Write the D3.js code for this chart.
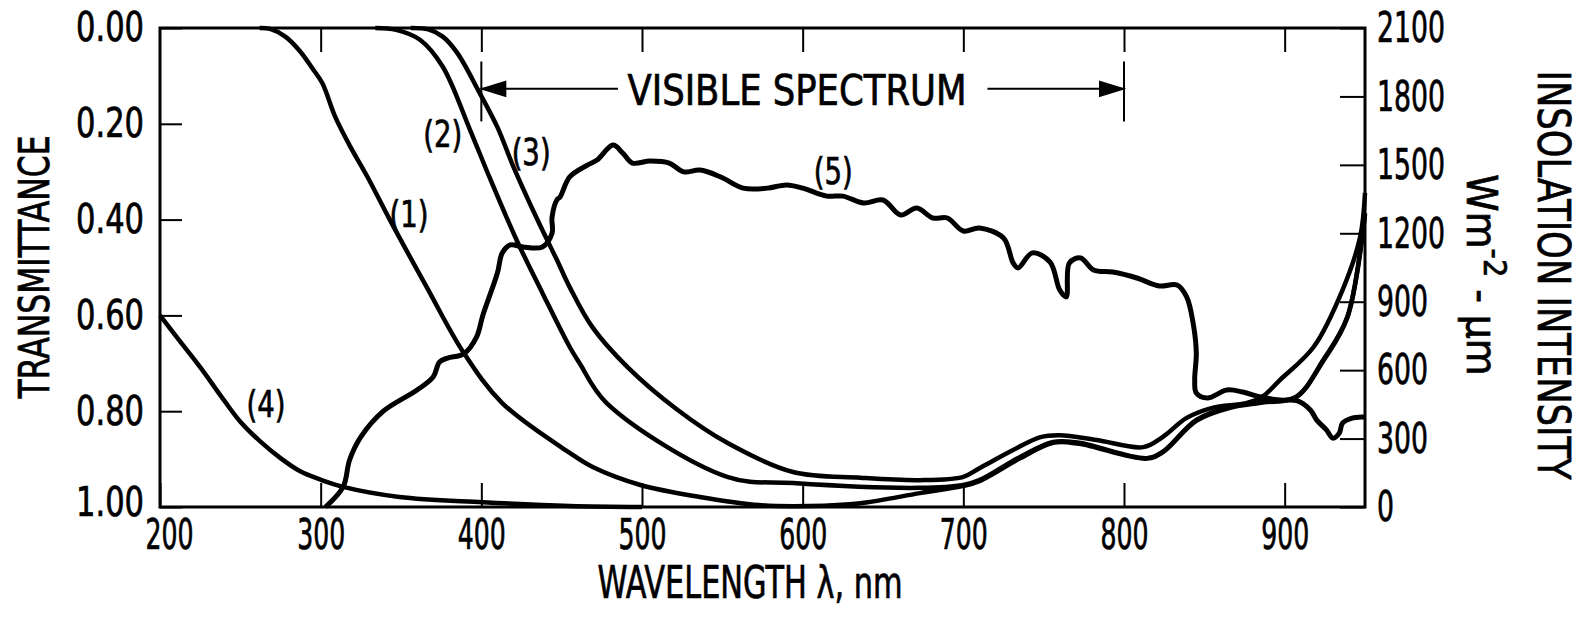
<!DOCTYPE html>
<html>
<head>
<meta charset="utf-8">
<script src="https://cdn.jsdelivr.net/npm/d3@7"></script>
<style>
  body { margin: 0; background: #fff; }
  svg text { font-family: "Liberation Sans Narrow", "DejaVu Sans Condensed", "Liberation Sans", sans-serif; fill: #000; stroke: #000; stroke-width: 0.7px; }
</style>
</head>
<body>
<div id="chart"></div>
<script>
// tick values
const xTicks = [200, 300, 400, 500, 600, 700, 800, 900];
const transTicks = [0, 0.2, 0.4, 0.6, 0.8, 1.0];
const insolTicks = [0, 300, 600, 900, 1200, 1500, 1800, 2100];

// transmittance curves, [wavelength nm, transmittance]
const curve1 = [[262, 0], [268.5, 0.002], [278, 0.018], [287, 0.048], [295, 0.085], [301, 0.115], [309, 0.185],
  [318, 0.245], [329, 0.31], [343, 0.40], [366, 0.541], [389, 0.678], [413, 0.783], [455, 0.887], [469, 0.916],
  [499, 0.954], [536, 0.979], [573, 0.996], [604, 0.998], [636, 0.992], [673, 0.971], [700, 0.956], [710, 0.946],
  [735, 0.899], [756, 0.866], [772, 0.868], [814, 0.899], [824, 0.886], [845, 0.82], [866, 0.793], [886, 0.782],
  [907, 0.771], [924, 0.695], [939, 0.605], [950, 0.39]];
const curve2 = [[334, 0], [347, 0.004], [362, 0.025], [376, 0.081], [393, 0.213], [405, 0.311], [422, 0.443],
  [438, 0.553], [455, 0.666], [461, 0.699], [478, 0.783], [553, 0.937], [594, 0.950], [673, 0.960], [700, 0.954],
  [710, 0.944], [735, 0.896], [756, 0.864], [772, 0.866], [814, 0.898], [824, 0.885], [845, 0.818], [866, 0.791],
  [886, 0.781], [907, 0.770], [924, 0.693], [939, 0.603], [950, 0.386]];
const curve3 = [[356, 0], [367, 0.003], [376, 0.018], [385, 0.052], [399, 0.136], [410, 0.207], [420, 0.290],
  [435, 0.401], [447, 0.484], [455, 0.541], [469, 0.624], [491, 0.708], [522, 0.797], [553, 0.866], [594, 0.927],
  [636, 0.939], [673, 0.944], [700, 0.937], [710, 0.919], [731, 0.881], [748, 0.854], [760, 0.850], [783, 0.860],
  [812, 0.875], [824, 0.854], [839, 0.814], [855, 0.793], [876, 0.783], [886, 0.770], [897, 0.735], [918, 0.666],
  [936, 0.547], [947, 0.436], [950, 0.344]];
const curve4 = [[200, 0.60], [212, 0.652], [225, 0.708], [240, 0.778], [250, 0.822], [262, 0.862], [275, 0.898],
  [287, 0.925], [300, 0.943], [314, 0.958], [349, 0.979], [401, 0.990], [455, 0.998], [500, 1.0]];

// insolation, [wavelength nm, W m-2 um-1]
const curve5 = [[303, 0], [314, 88], [318, 206], [325, 307], [339, 420], [360, 513], [370, 570], [374, 636],
  [379, 653], [389, 671], [397, 745], [401, 842], [410, 1026], [413, 1114], [418, 1149], [426, 1140], [438, 1140],
  [444, 1200], [444, 1270], [447, 1346], [449, 1359], [455, 1447], [466, 1499], [472, 1521], [482, 1587],
  [488, 1552], [494, 1508], [505, 1517], [517, 1508], [526, 1469], [536, 1477], [549, 1447], [563, 1398],
  [578, 1398], [590, 1412], [600, 1398], [615, 1363], [625, 1363], [638, 1333], [650, 1346], [661, 1280],
  [671, 1311], [681, 1267], [690, 1267], [700, 1210], [710, 1223], [725, 1179], [731, 1070], [734, 1048],
  [743, 1114], [754, 1074], [760, 951], [764, 921], [766, 1070], [773, 1092], [781, 1039], [793, 1030],
  [808, 1004], [822, 969], [833, 973], [839, 921], [843, 807], [845, 675], [844, 557], [845, 500], [852, 478],
  [864, 513], [874, 504], [885, 482], [897, 469], [908, 465], [916, 425], [920, 381], [926, 338], [930, 302],
  [934, 324], [936, 368], [942, 390], [949, 395], [950, 395]];

// curve labels, [wavelength, value on its own axis]
const labels = [
  { text: "(1)", at: [355, 0.388], axis: "t" },
  { text: "(2)", at: [376, 0.221], axis: "t" },
  { text: "(3)", at: [431, 0.259], axis: "t" },
  { text: "(4)", at: [266, 0.784], axis: "t" },
  { text: "(5)", at: [619, 1473], axis: "i" }
];

const width = 1582, height = 618;
const m = { left: 160, right: 1365, top: 28, bottom: 507 };

const svg = d3.select("#chart").append("svg")
  .attr("width", width)
  .attr("height", height);

const x = d3.scaleLinear().domain([200, 950]).range([m.left, m.right]);
const yT = d3.scaleLinear().domain([0, 1]).range([m.top, m.bottom]);
const yI = d3.scaleLinear().domain([0, 2100]).range([m.bottom, m.top]);

function styleAxis(g, size, perChar) {
  g.select(".domain").remove();
  g.selectAll(".tick line").attr("stroke", "#000").attr("stroke-width", 2);
  g.selectAll(".tick text")
    .attr("font-size", size)
    .attr("fill", "#000")
    .attr("lengthAdjust", "spacingAndGlyphs")
    .attr("textLength", function () { return this.textContent.length * perChar; });
}

// bottom
svg.append("g")
  .attr("transform", `translate(0,${m.bottom})`)
  .call(d3.axisBottom(x).tickValues(xTicks).tickSize(-24).tickPadding(12).tickFormat(d3.format("d")))
  .call(g => styleAxis(g, 42, 16))
  .call(g => g.selectAll(".tick text").filter(d => d === 200).attr("dx", 9));

// top, ticks only
svg.append("g")
  .attr("transform", `translate(0,${m.top})`)
  .call(d3.axisTop(x).tickValues(xTicks.slice(1)).tickSize(-24).tickFormat(""))
  .call(g => styleAxis(g, 40, 16));

// left
svg.append("g")
  .attr("transform", `translate(${m.left},0)`)
  .call(d3.axisLeft(yT).tickValues(transTicks).tickSize(-22).tickPadding(16).tickFormat(d3.format(".2f")))
  .call(g => styleAxis(g, 40, 17))
  .call(g => g.selectAll(".tick text").filter(d => d === 1).attr("dy", "0.2em"));

// right
svg.append("g")
  .attr("transform", `translate(${m.right},0)`)
  .call(d3.axisRight(yI).tickValues(insolTicks).tickSize(-25).tickPadding(12).tickFormat(d3.format("d")))
  .call(g => styleAxis(g, 43, 17));

// frame
svg.append("rect")
  .attr("x", m.left).attr("y", m.top)
  .attr("width", m.right - m.left).attr("height", m.bottom - m.top)
  .attr("fill", "none").attr("stroke", "#000").attr("stroke-width", 3);

// curves
const lineT = d3.line().x(d => x(d[0])).y(d => yT(d[1])).curve(d3.curveCatmullRom.alpha(0.5));
const lineI = d3.line().x(d => x(d[0])).y(d => yI(d[1])).curve(d3.curveCatmullRom.alpha(0.5));

svg.selectAll("path.trans")
  .data([curve1, curve2, curve3, curve4])
  .join("path")
  .attr("class", "trans")
  .attr("d", lineT)
  .attr("fill", "none")
  .attr("stroke", "#000")
  .attr("stroke-width", 4.5)
  .attr("stroke-linejoin", "round");

svg.append("path")
  .attr("d", lineI(curve5))
  .attr("fill", "none")
  .attr("stroke", "#000")
  .attr("stroke-width", 5)
  .attr("stroke-linejoin", "round");

// curve labels
svg.selectAll("text.clabel")
  .data(labels)
  .join("text")
  .attr("class", "clabel")
  .attr("x", d => x(d.at[0]))
  .attr("y", d => (d.axis === "t" ? yT(d.at[1]) : yI(d.at[1])) + 13)
  .attr("text-anchor", "middle")
  .attr("font-size", 38)
  .attr("lengthAdjust", "spacingAndGlyphs")
  .attr("textLength", 39)
  .text(d => d.text);

// visible spectrum marker
const vis = svg.append("g").attr("stroke", "#000").attr("stroke-width", 2);
const yArrow = yT(0.127);
[400, 800].forEach(w => {
  vis.append("line")
    .attr("x1", x(w)).attr("x2", x(w))
    .attr("y1", yT(0.07)).attr("y2", yT(0.195));
});
vis.append("line").attr("x1", x(400)).attr("x2", x(485)).attr("y1", yArrow).attr("y2", yArrow);
vis.append("line").attr("x1", x(715)).attr("x2", x(800)).attr("y1", yArrow).attr("y2", yArrow);
vis.append("path")
  .attr("d", `M${x(400) + 1},${yArrow} L${x(400) + 24},${yArrow - 7} L${x(400) + 24},${yArrow + 7} Z`)
  .attr("fill", "#000");
vis.append("path")
  .attr("d", `M${x(800) - 1},${yArrow} L${x(800) - 24},${yArrow - 7} L${x(800) - 24},${yArrow + 7} Z`)
  .attr("fill", "#000");

svg.append("text")
  .attr("x", 797).attr("y", yArrow + 16)
  .attr("text-anchor", "middle")
  .attr("font-size", 43)
  .attr("lengthAdjust", "spacingAndGlyphs")
  .attr("textLength", 339)
  .text("VISIBLE SPECTRUM");

// axis titles
svg.append("text")
  .attr("transform", "translate(49,267) rotate(-90)")
  .attr("text-anchor", "middle")
  .attr("font-size", 42)
  .attr("lengthAdjust", "spacingAndGlyphs")
  .attr("textLength", 263)
  .text("TRANSMITTANCE");

svg.append("text")
  .attr("x", 750).attr("y", 598)
  .attr("text-anchor", "middle")
  .attr("font-size", 45)
  .attr("lengthAdjust", "spacingAndGlyphs")
  .attr("textLength", 305)
  .text("WAVELENGTH  \u03bb,  nm");

svg.append("text")
  .attr("transform", "translate(1538,275) rotate(90)")
  .attr("text-anchor", "middle")
  .attr("font-size", 44)
  .attr("lengthAdjust", "spacingAndGlyphs")
  .attr("textLength", 409)
  .text("INSOLATION INTENSITY");

const unit = svg.append("text")
  .attr("transform", "translate(1467,275) rotate(90)")
  .attr("text-anchor", "middle")
  .attr("font-size", 42);
unit.append("tspan").text("Wm");
unit.append("tspan").attr("dy", -17).attr("font-size", 32).text("-2");
unit.append("tspan").attr("dy", 17).text("  -  \u03bcm");
</script>
</body>
</html>
